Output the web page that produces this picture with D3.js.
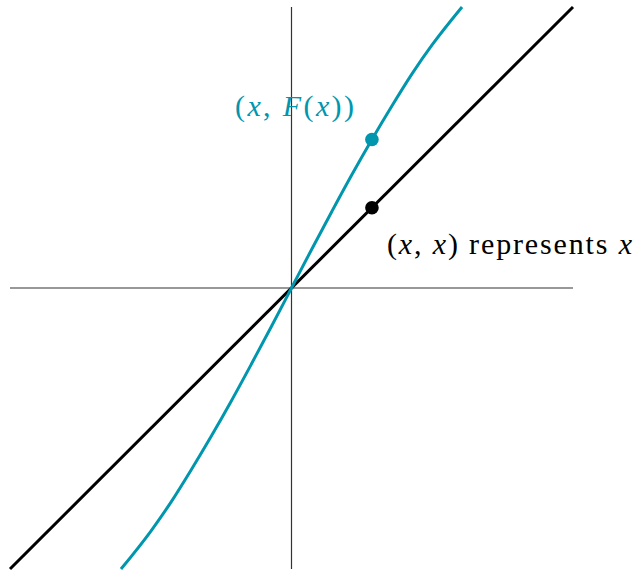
<!DOCTYPE html>
<html>
<head>
<meta charset="utf-8">
<script src="https://cdn.jsdelivr.net/npm/d3@7"></script>
<style>
  body { margin: 0; background: #fff; }
  .axis { stroke: #333; stroke-width: 1.2; }
  .label { font-family: "Liberation Serif", "DejaVu Serif", serif; font-size: 30px; }
  .label .it { font-style: italic; }
</style>
</head>
<body>
<div class="chart-container"></div>
<script>
var width = 639;
var height = 571;

var domain = [-3.5, 3.5];

// the curve (x, F(x))
var curveX = [-2.12, -1.75, -1.5, -1.25, -1, -0.75, -0.5, -0.25, 0, 0.25, 0.5, 0.75, 1, 1.25, 1.5, 1.75, 2.12];
var curveY = [-3.5, -3.03, -2.67, -2.27, -1.85, -1.41, -0.95, -0.48, 0, 0.48, 0.95, 1.41, 1.85, 2.27, 2.67, 3.03, 3.5];

// the identity line (x, x)
var lineX = [-3.5, 3.5];
var lineY = [-3.5, 3.5];

// marked points at x = 1
var pointX = [1, 1];
var pointY = [1.85, 1];

var teal = '#0096ad';

var x = d3.scaleLinear().domain(domain).range([10, 573]);
var y = d3.scaleLinear().domain(domain).range([569, 7]);

var svg = d3.select('.chart-container').append('svg')
  .attr('width', width)
  .attr('height', height);

// axes
svg.append('line').attr('class', 'axis')
  .attr('x1', x(domain[0])).attr('x2', x(domain[1]))
  .attr('y1', y(0)).attr('y2', y(0));
svg.append('line').attr('class', 'axis')
  .attr('x1', x(0)).attr('x2', x(0))
  .attr('y1', y(domain[0])).attr('y2', y(domain[1]));

var line = d3.line()
  .curve(d3.curveMonotoneX)
  .x(d => x(d[0]))
  .y(d => y(d[1]));

svg.append('path')
  .datum(d3.zip(lineX, lineY))
  .attr('d', line)
  .attr('fill', 'none')
  .attr('stroke', '#000')
  .attr('stroke-width', 3);

svg.append('path')
  .datum(d3.zip(curveX, curveY))
  .attr('d', line)
  .attr('fill', 'none')
  .attr('stroke', teal)
  .attr('stroke-width', 3);

svg.selectAll('circle')
  .data(d3.zip(pointX, pointY))
  .enter().append('circle')
  .attr('cx', d => x(d[0]))
  .attr('cy', d => y(d[1]))
  .attr('r', 6.8)
  .attr('fill', (d, i) => i === 0 ? teal : '#000');

// labels
var l1 = svg.append('text').attr('class', 'label')
  .attr('x', 235).attr('y', 116)
  .attr('textLength', 119)
  .attr('lengthAdjust', 'spacing')
  .attr('fill', teal);
l1.append('tspan').text('(');
l1.append('tspan').attr('class', 'it').text('x');
l1.append('tspan').text(', ');
l1.append('tspan').attr('class', 'it').text('F');
l1.append('tspan').text('(');
l1.append('tspan').attr('class', 'it').text('x');
l1.append('tspan').text('))');

var l2 = svg.append('text').attr('class', 'label')
  .attr('x', 387).attr('y', 254)
  .attr('textLength', 245)
  .attr('lengthAdjust', 'spacing')
  .attr('fill', '#000');
l2.append('tspan').text('(');
l2.append('tspan').attr('class', 'it').text('x');
l2.append('tspan').text(', ');
l2.append('tspan').attr('class', 'it').text('x');
l2.append('tspan').text(') represents ');
l2.append('tspan').attr('class', 'it').text('x');
</script>
</body>
</html>
